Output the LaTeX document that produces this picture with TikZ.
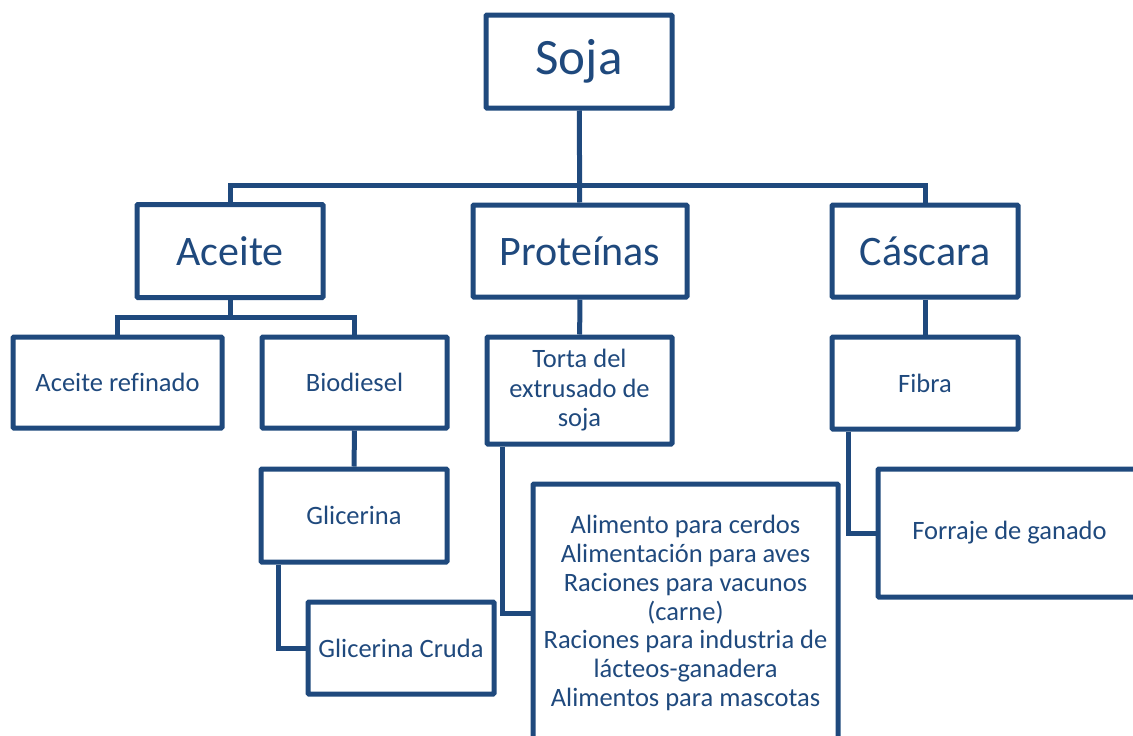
\documentclass[tikz,border=0pt]{standalone}
\usepackage{fontspec}
\setmainfont[Ligatures=CommonOff]{Carlito}
\definecolor{sojablue}{HTML}{1F497D}

\begin{document}
\begin{tikzpicture}[x=1pt,y=-1pt,
    box/.style={draw=sojablue,line width=5pt,text=sojablue,rounded corners=1pt,
      inner sep=0pt,align=center,font=\fontsize{26.5}{29.5}\selectfont},
    topbox/.style={box,font=\fontsize{51}{60}\selectfont},
    mainbox/.style={box,font=\fontsize{42}{50}\selectfont},
    link/.style={draw=sojablue,line width=5pt}]
    \useasboundingbox (0,0) rectangle (1133,736);
    \clip (0,0) rectangle (1133,736);
    % upper levels
    \node[topbox,minimum width=186pt,minimum height=93pt] (soja) at (579,61.5) {Soja};
    \node[mainbox,minimum width=186pt,minimum height=93pt] (aceite) at (230,251) {Aceite};
    \node[mainbox,minimum width=214pt,minimum height=92pt] (proteinas) at (580,251) {Proteínas};
    \node[mainbox,minimum width=186pt,minimum height=92pt] (cascara) at (925,251) {Cáscara};
    % products
    \node[box,minimum width=209pt,minimum height=91pt] (refinado) at (117.5,382.5) {Aceite refinado};
    \node[box,minimum width=185pt,minimum height=91pt] (biodiesel) at (354.5,382.5) {Biodiesel};
    \node[box,minimum width=185pt,minimum height=107pt] (torta) at (579.5,390.5) {Torta del\\extrusado de\\soja};
    \node[box,minimum width=186pt,minimum height=92pt] (fibra) at (925,383) {Fibra};
    \node[box,minimum width=186pt,minimum height=93pt] (glicerina) at (354,515.5) {Glicerina};
    \node[box,minimum width=186pt,minimum height=92pt] (cruda) at (401,648) {Glicerina Cruda};
    \node[box,minimum width=305pt,minimum height=258pt,font=\fontsize{26.5}{28.8}\selectfont] (usos) at (685.5,613)
      {Alimento para cerdos\\Alimentación para aves\\Raciones para vacunos\\(carne)\\Raciones para industria de\\lácteos-ganadera\\Alimentos para mascotas};
    \node[box,minimum width=263pt,minimum height=128pt] (forraje) at (1009.5,533) {Forraje de ganado};
    % connectors
    \coordinate (bus) at (579,185);
    \coordinate (aceitebus) at (230,317);
    \draw[link] (soja) -- (proteinas);
    \draw[link] (aceite.north) |- (bus) -| (cascara.north);
    \draw[link] (aceite) -- (aceitebus);
    \draw[link] (refinado.north) |- (aceitebus) -| (biodiesel.north);
    \draw[link] (proteinas) -- (torta);
    \draw[link] (cascara) -- (fibra);
    \draw[link] (biodiesel) -- (glicerina);
    \draw[link] ([xshift=20pt]glicerina.south west) |- (cruda.west);
    \draw[link] ([xshift=18pt]torta.south west) |- (usos.west);
    \draw[link] ([xshift=19pt]fibra.south west) |- (forraje.west);
\end{tikzpicture}
\end{document}
